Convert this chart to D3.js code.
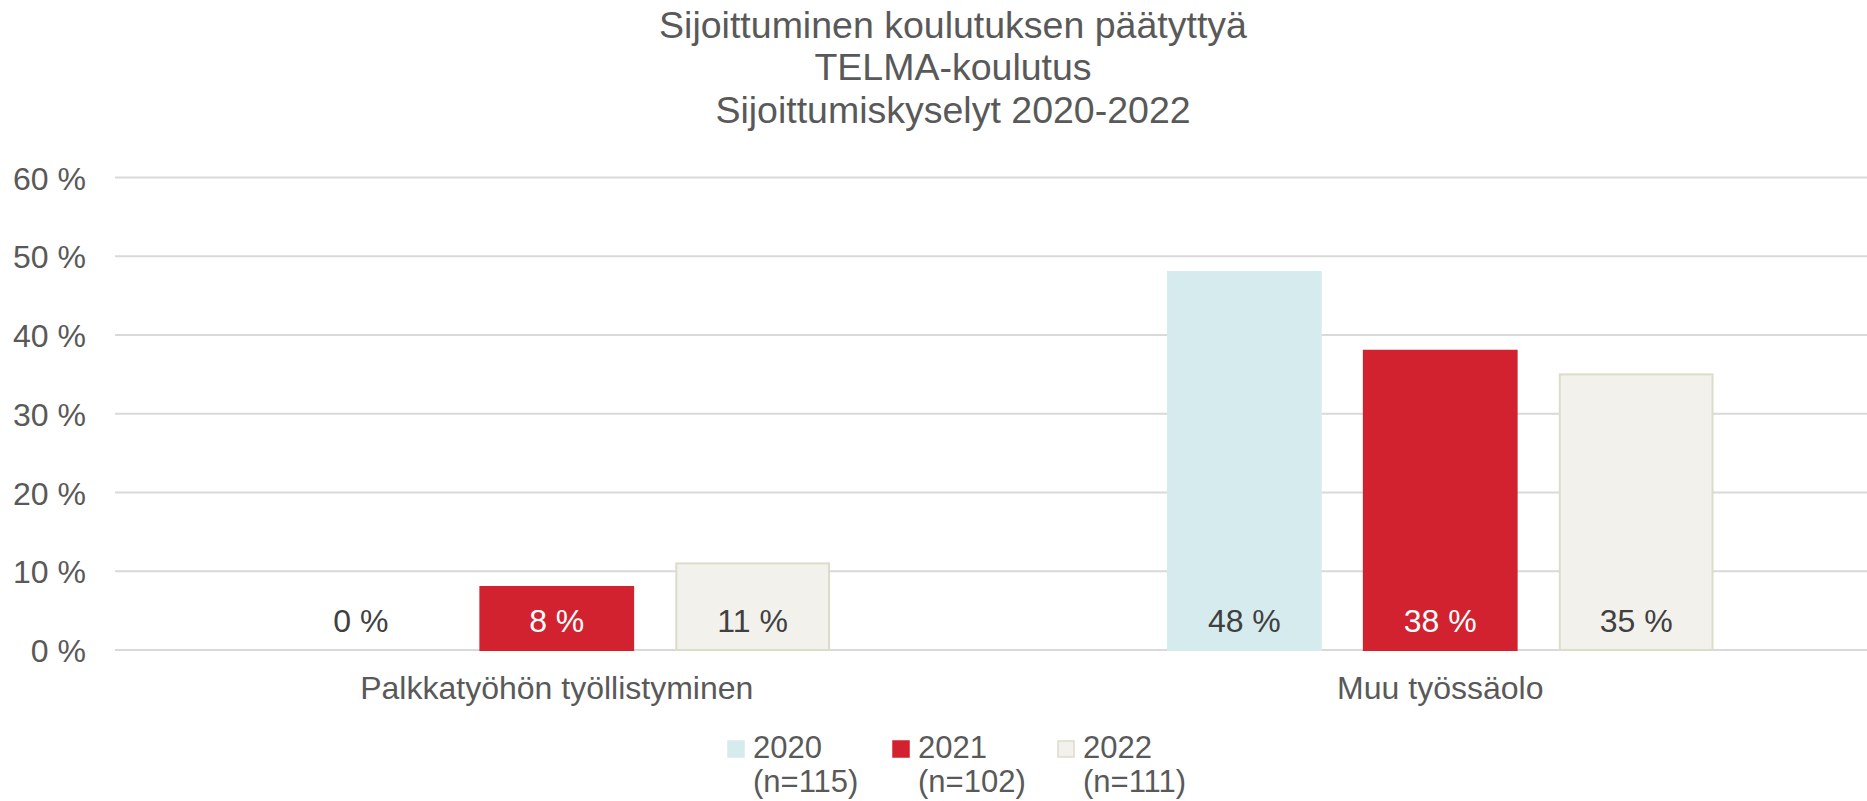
<!DOCTYPE html>
<html>
<head>
<meta charset="utf-8">
<script src="https://cdn.jsdelivr.net/npm/d3@7"></script>
<style>
    body { margin: 0; background: #fff; }
    svg { display: block; font-family: "Liberation Sans", Arial, sans-serif; }
</style>
</head>
<body>
<div id="chart"></div>
<script>
// data
var titleLines = ["Sijoittuminen koulutuksen päätyttyä", "TELMA-koulutus", "Sijoittumiskyselyt 2020-2022"];
var categories = ["Palkkatyöhön työllistyminen", "Muu työssäolo"];
var seriesNames = ["2020", "2021", "2022"];
var seriesN = ["(n=115)", "(n=102)", "(n=111)"];
var values2020 = [0, 48];
var values2021 = [8, 38];
var values2022 = [11, 35];
var yTicks = [0, 10, 20, 30, 40, 50, 60];

var seriesValues = [values2020, values2021, values2022];
var fills = ["#d6ebee", "#d3222f", "#f2f1ec"];
var strokes = ["#d6ebee", "#d3222f", "#dcdccb"];
var labelColors = ["#404040", "#ffffff", "#404040"];

var width = 1867,
    height = 801;

var svg = d3.select("#chart")
    .append("svg")
    .attr("width", width)
    .attr("height", height);

// scales
var x0 = d3.scaleBand()
    .domain(categories)
    .range([115, 1882]);

var x1 = d3.scaleBand()
    .domain(seriesNames)
    .range([0, x0.bandwidth()])
    .paddingInner(0.21)
    .paddingOuter(0.86);

var y = d3.scaleLinear()
    .domain([0, 60])
    .range([650, 177.5]);

// title
svg.append("g")
    .selectAll("text")
    .data(titleLines)
    .enter()
    .append("text")
    .attr("x", 953)
    .attr("y", (d, i) => 38 + i * 42.3)
    .attr("text-anchor", "middle")
    .style("font-size", "37.5px")
    .style("fill", "#595959")
    .text(d => d);

// gridlines
svg.append("g")
    .selectAll("line")
    .data(yTicks)
    .enter()
    .append("line")
    .attr("x1", 115)
    .attr("x2", width)
    .attr("y1", d => y(d))
    .attr("y2", d => y(d))
    .style("stroke", "#d9d9d9")
    .style("stroke-width", 2);

// y axis labels
var yAxis = d3.axisLeft(y)
    .tickValues(yTicks)
    .tickSize(0)
    .tickPadding(0)
    .tickFormat(d => d + " %");

svg.append("g")
    .attr("transform", "translate(86,0)")
    .call(yAxis)
    .call(g => g.select(".domain").remove())
    .selectAll("text")
    .attr("dy", "0.36em")
    .style("font-family", "\"Liberation Sans\", Arial, sans-serif")
    .style("font-size", "32px")
    .style("fill", "#595959");

// bars
var groups = svg.append("g")
    .selectAll("g")
    .data(seriesNames)
    .enter()
    .append("g");

groups.selectAll("rect")
    .data((s, si) => categories.map((c, ci) => ({s: si, c: c, v: seriesValues[si][ci]})))
    .enter()
    .filter(d => d.v > 0)
    .append("rect")
    .attr("x", d => x0(d.c) + x1(seriesNames[d.s]) + 1)
    .attr("y", d => y(d.v))
    .attr("width", x1.bandwidth() - 2)
    .attr("height", d => y(0) - y(d.v))
    .style("fill", d => fills[d.s])
    .style("stroke", d => strokes[d.s])
    .style("stroke-width", 2);

// data labels
groups.selectAll("text")
    .data((s, si) => categories.map((c, ci) => ({s: si, c: c, v: seriesValues[si][ci]})))
    .enter()
    .append("text")
    .attr("x", d => x0(d.c) + x1(seriesNames[d.s]) + x1.bandwidth() / 2)
    .attr("y", 632)
    .attr("text-anchor", "middle")
    .style("font-size", "32px")
    .style("fill", d => labelColors[d.s])
    .text(d => d.v + " %");

// category labels
var xAxis = d3.axisBottom(x0)
    .tickSize(0)
    .tickPadding(0);

svg.append("g")
    .attr("transform", "translate(0,650)")
    .call(xAxis)
    .call(g => g.select(".domain").remove())
    .selectAll("text")
    .attr("dy", null)
    .attr("y", 49)
    .style("font-family", "\"Liberation Sans\", Arial, sans-serif")
    .style("font-size", "32px")
    .style("fill", "#595959");

// legend
var legendX = [727, 892, 1057];
var legend = svg.append("g")
    .selectAll("g")
    .data(seriesNames)
    .enter()
    .append("g")
    .attr("transform", (d, i) => "translate(" + legendX[i] + ",0)");

legend.append("rect")
    .attr("x", 1)
    .attr("y", 741)
    .attr("width", 16)
    .attr("height", 16)
    .style("fill", (d, i) => fills[i])
    .style("stroke", (d, i) => strokes[i])
    .style("stroke-width", 1.5);

legend.append("text")
    .attr("x", 26)
    .attr("y", 758)
    .style("font-size", "31px")
    .style("fill", "#595959")
    .text(d => d);

legend.append("text")
    .attr("x", 26)
    .attr("y", 792)
    .style("font-size", "31px")
    .style("fill", "#595959")
    .text((d, i) => seriesN[i]);
</script>
</body>
</html>
